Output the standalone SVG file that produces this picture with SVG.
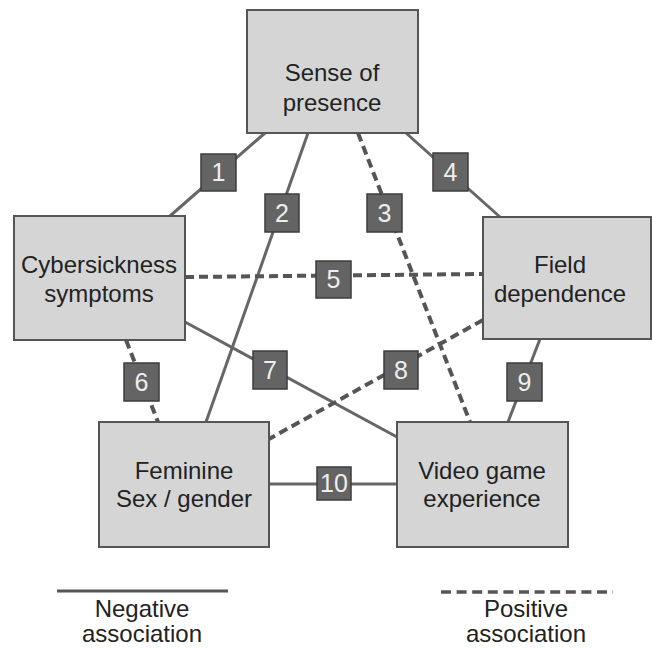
<svg xmlns="http://www.w3.org/2000/svg" width="652" height="648" viewBox="0 0 652 648">
<style>
.node rect{fill:#d5d5d5;stroke:#555;stroke-width:2}
.node text,.leg text{font-family:"Liberation Sans",Arial,sans-serif;font-size:24px;fill:#222;text-anchor:middle}
.neg{stroke:#666;stroke-width:3;fill:none}
.pos{stroke:#555;stroke-width:4;fill:none;stroke-dasharray:9 5}
.lbl rect{fill:#646464;stroke:#3c3c3c;stroke-width:1.5}
.lbl text{font-family:"Liberation Sans",Arial,sans-serif;font-size:25px;fill:#eeeeee;text-anchor:middle}
</style>
<rect width="652" height="648" fill="#fff"/>
<g id="connectors">
<line class="neg" x1="265" y1="133" x2="170" y2="216"/>
<line class="neg" x1="308" y1="133" x2="206" y2="422"/>
<line class="pos" x1="358" y1="133" x2="470" y2="422"/>
<line class="neg" x1="406" y1="133" x2="500" y2="217"/>
<line class="pos" x1="185" y1="277" x2="483" y2="274"/>
<line class="pos" x1="126" y1="340" x2="158" y2="422"/>
<line class="neg" x1="185" y1="322" x2="397" y2="437"/>
<line class="pos" x1="483" y1="320" x2="269" y2="439"/>
<line class="neg" x1="540" y1="339" x2="508" y2="422"/>
<line class="neg" x1="269" y1="484" x2="397" y2="484"/>
</g>
<g id="n-presence" class="node"><rect x="247" y="10" width="171" height="123"/><text x="332" y="81">Sense of</text><text x="332" y="111">presence</text></g>
<g id="n-cyber" class="node"><rect x="14" y="216" width="171" height="124"/><text x="99" y="273">Cybersickness</text><text x="99" y="302">symptoms</text></g>
<g id="n-field" class="node"><rect x="483" y="217" width="168" height="122"/><text x="560" y="273">Field</text><text x="560" y="302">dependence</text></g>
<g id="n-feminine" class="node"><rect x="99" y="422" width="170" height="125"/><text x="184" y="479">Feminine</text><text x="184" y="507">Sex / gender</text></g>
<g id="n-video" class="node"><rect x="397" y="422" width="171" height="125"/><text x="482" y="479">Video game</text><text x="482" y="507">experience</text></g>
<g id="labels">
<g class="lbl"><rect x="201" y="154" width="35" height="37"/><text x="218.5" y="181">1</text></g>
<g class="lbl"><rect x="265" y="194" width="34" height="38"/><text x="282" y="222">2</text></g>
<g class="lbl"><rect x="367" y="194" width="35" height="38"/><text x="384.5" y="222">3</text></g>
<g class="lbl"><rect x="433" y="153" width="35" height="38"/><text x="450.5" y="181">4</text></g>
<g class="lbl"><rect x="316" y="261" width="35" height="37"/><text x="333.5" y="288">5</text></g>
<g class="lbl"><rect x="124" y="363" width="35" height="38"/><text x="141.5" y="391">6</text></g>
<g class="lbl"><rect x="253" y="351" width="34" height="38"/><text x="270" y="379">7</text></g>
<g class="lbl"><rect x="384" y="351" width="34" height="38"/><text x="401" y="379">8</text></g>
<g class="lbl"><rect x="507" y="363" width="35" height="38"/><text x="524.5" y="391">9</text></g>
<g class="lbl"><rect x="317" y="467" width="34" height="33"/><text x="334" y="492">10</text></g>
</g>
<g id="legend" class="leg">
<line x1="57" y1="591" x2="228" y2="591" stroke="#555" stroke-width="3"/>
<text x="142" y="617">Negative</text><text x="142" y="642">association</text>
<line x1="441" y1="592" x2="613" y2="592" stroke="#555" stroke-width="3.5" stroke-dasharray="10 5.6"/>
<text x="526" y="617">Positive</text><text x="526" y="642">association</text>
</g>
</svg>
